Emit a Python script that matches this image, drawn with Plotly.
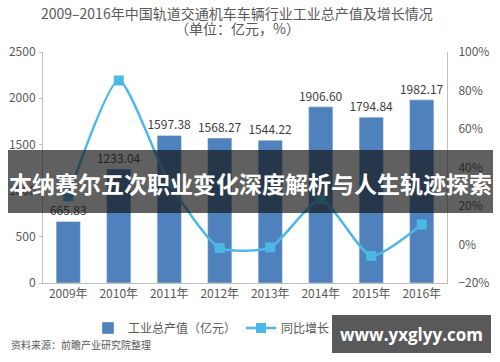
import plotly.graph_objects as go
from plotly.subplots import make_subplots

years = ["2009年", "2010年", "2011年", "2012年", "2013年", "2014年", "2015年", "2016年"]
output_value = [665.83, 1233.04, 1597.38, 1568.27, 1544.22, 1906.60, 1794.84, 1982.17]
growth_rate = [25.0, 85.2, 32.0, -1.8, -1.5, 23.5, -5.9, 10.4]

left_ticks = [0, 500, 1000, 1500, 2000, 2500]
right_ticks = [-20, 0, 20, 40, 60, 80, 100]
right_tick_text = ["−20%", "0%", "20%", "40%", "60%", "80%", "100%"]

W, H = 500, 362
L, R, T, B = 43, 447, 52, 283
FONT = "Noto Sans CJK SC"
GREY = "#595959"

def px(x):
    return (x - L) / (R - L)

def py(y):
    return (B - y) / (B - T)

fig = make_subplots(specs=[[{"secondary_y": True}]])

fig.add_trace(go.Bar(
    x=years, y=output_value, name="工业总产值（亿元）",
    marker=dict(color="#4f81bd"), width=0.48,
    text=[f"{v:.2f}" for v in output_value], textposition="outside",
    textfont=dict(size=12, color="#404040", family=FONT),
    constraintext="none", cliponaxis=False,
), secondary_y=False)

fig.add_trace(go.Scatter(
    x=years, y=growth_rate, name="同比增长（%）", mode="lines+markers",
    line=dict(color="#4cb8e8", width=2.5, shape="spline", smoothing=0.6),
    marker=dict(symbol="square", size=10, color="#4cb8e8"),
), secondary_y=True)

fig.update_layout(
    width=W, height=H, autosize=False,
    margin=dict(l=L, r=W - R, t=T, b=H - B, autoexpand=False),
    paper_bgcolor="white", plot_bgcolor="white",
    font=dict(family=FONT, size=12, color=GREY),
    showlegend=True,
    legend=dict(orientation="h", x=px(88), xanchor="left", y=py(328), yanchor="middle",
                font=dict(size=12, color=GREY), bgcolor="rgba(0,0,0,0)"),
    bargap=0.5,
)

fig.update_xaxes(domain=[0, 1], range=[-0.5, 7.5], showline=True, linecolor="#bfbfbf", linewidth=1,
                 ticks="", tickfont=dict(size=12, color=GREY), showgrid=False)
fig.update_yaxes(range=[0, 2500], tickvals=left_ticks, showline=True, linecolor="#bfbfbf",
                 ticks="outside", ticklen=3, tickcolor="#bfbfbf", ticklabelstandoff=1,
                 tickfont=dict(size=12, color=GREY), showgrid=False, zeroline=False,
                 secondary_y=False)
fig.update_yaxes(range=[-20, 100], tickvals=right_ticks, ticktext=right_tick_text, showline=True,
                 linecolor="#bfbfbf", ticks="", ticklabelstandoff=8,
                 tickfont=dict(size=12, color=GREY),
                 showgrid=False, zeroline=False, secondary_y=True)

# titles
fig.add_annotation(xref="paper", yref="paper", x=px(237), y=py(13), text="2009–2016年中国轨道交通机车车辆行业工业总产值及增长情况",
                   showarrow=False, font=dict(size=14, color=GREY), xanchor="center", yanchor="middle")
fig.add_annotation(xref="paper", yref="paper", x=px(237), y=py(28), text="（单位：亿元，%）",
                   showarrow=False, font=dict(size=14, color=GREY), xanchor="center", yanchor="middle")

# source
fig.add_annotation(xref="paper", yref="paper", x=px(9), y=py(344), text="资料来源：前瞻产业研究院整理",
                   showarrow=False, font=dict(size=10, color=GREY), xanchor="left", yanchor="middle")

# banner overlay
fig.add_shape(type="rect", xref="paper", yref="paper", x0=px(8), x1=px(493), y0=py(213), y1=py(150),
              fillcolor="rgba(20,20,20,0.68)", line=dict(width=0), layer="above")
fig.add_annotation(xref="paper", yref="paper", x=px(250), y=py(183),
                   text="<b>本纳赛尔五次职业变化深度解析与人生轨迹探索</b>",
                   showarrow=False, font=dict(size=23, color="white"), xanchor="center", yanchor="middle")

# watermark
fig.add_shape(type="rect", xref="paper", yref="paper", x0=px(332), x1=px(491), y0=py(353), y1=py(315),
              fillcolor="rgba(60,60,60,0.85)", line=dict(width=0), layer="above")
fig.add_annotation(xref="paper", yref="paper", x=px(411.5), y=py(334), text="<b>www.yxglyy.com</b>",
                   showarrow=False, font=dict(size=17, color="white", family="Open Sans"),
                   xanchor="center", yanchor="middle")

fig.write_html(
    "out.html",
    config={"responsive": False, "displayModeBar": False},
    post_script="document.body.style.margin='0px';document.body.style.overflow='hidden';",
)
